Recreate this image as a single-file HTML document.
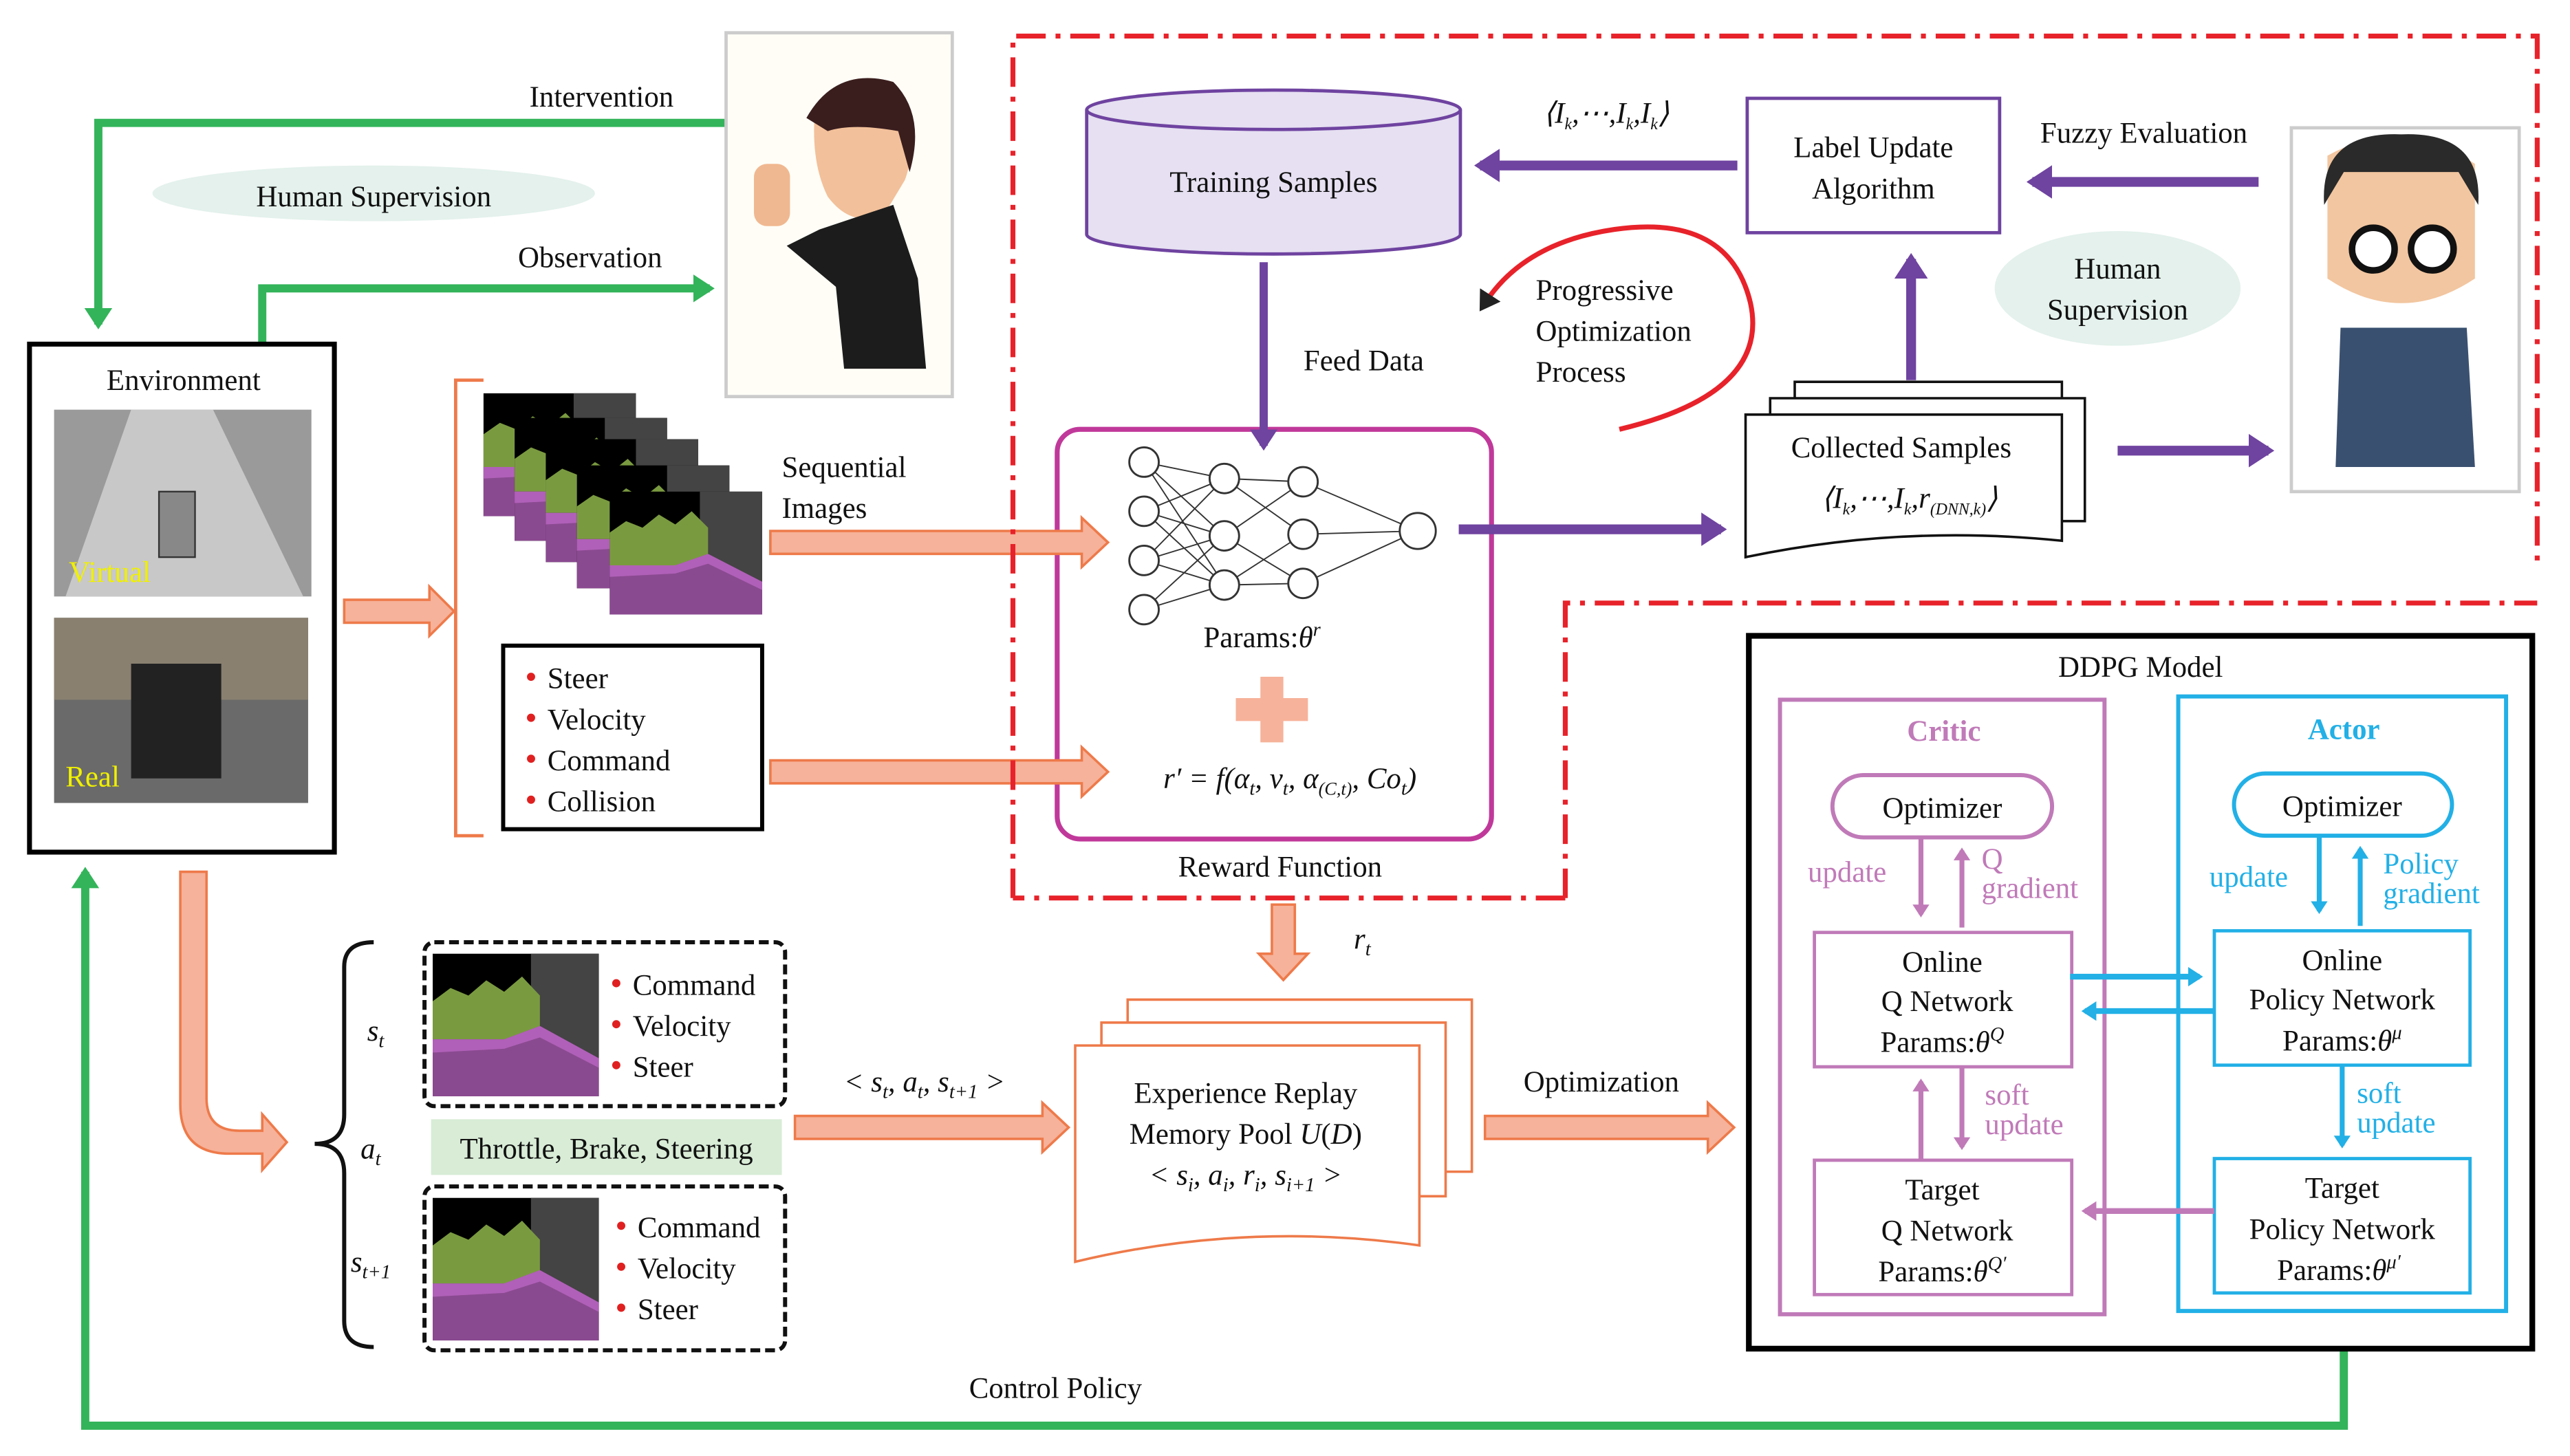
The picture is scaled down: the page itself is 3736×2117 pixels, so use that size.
<!DOCTYPE html>
<html><head><meta charset="utf-8"><style>
html,body{margin:0;padding:0;background:#fff;}
svg{display:block;}
text{font-family:"Liberation Serif",serif;fill:#111;}
.s18{font-size:18px;}
.c{text-anchor:middle;}
.i{font-style:italic;}
</style></head><body>
<svg width="3736" height="2117" viewBox="0 0 1568 888.5" preserveAspectRatio="none" xmlns="http://www.w3.org/2000/svg">
<defs>
<marker id="ag" markerWidth="4" markerHeight="4" refX="2" refY="2" orient="auto" markerUnits="strokeWidth"><path d="M0,0.3 L2.6,2 L0,3.7z" fill="#33b45a"/></marker>
<marker id="ap" markerWidth="4" markerHeight="4" refX="2" refY="2" orient="auto" markerUnits="strokeWidth"><path d="M0,0.3 L2.6,2 L0,3.7z" fill="#6f43a0"/></marker>
<marker id="am" markerWidth="4" markerHeight="4" refX="2" refY="2" orient="auto" markerUnits="strokeWidth"><path d="M0,0.3 L2.6,2 L0,3.7z" fill="#c07ab8"/></marker>
<marker id="ab" markerWidth="4" markerHeight="4" refX="2" refY="2" orient="auto" markerUnits="strokeWidth"><path d="M0,0.3 L2.6,2 L0,3.7z" fill="#22b0e6"/></marker>
<marker id="ak" markerWidth="6" markerHeight="6" refX="2" refY="3" orient="auto" markerUnits="strokeWidth"><path d="M0,0.5 L4,3 L0,5.5z" fill="#222"/></marker>
<g id="sim">
<rect x="0" y="0" width="93" height="75" fill="#000"/>
<rect x="55" y="0" width="38" height="75" fill="#444"/>
<path d="M0,25 L10,18 L20,22 L30,14 L40,20 L50,12 L60,22 L60,45 L0,45z" fill="#7a9a40"/>
<path d="M0,45 L40,45 L60,38 L93,55 L93,75 L0,75z" fill="#8a4a90"/>
<path d="M0,45 L40,45 L60,38 L93,55 L93,60 L60,44 L40,50 L0,52z" fill="#b060b8"/>
</g>
</defs>

<ellipse cx="228" cy="118" rx="135" ry="17" fill="#e4f1ec"/>
<text x="228" y="126" class="s18 c">Human Supervision</text>
<text x="367" y="65" class="s18 c">Intervention</text>
<text x="360" y="163" class="s18 c">Observation</text>
<polyline points="443,75 60,75 60,198" fill="none" stroke="#33b45a" stroke-width="5" marker-end="url(#ag)"/>
<polyline points="160,210 160,176 433,176" fill="none" stroke="#33b45a" stroke-width="5" marker-end="url(#ag)"/>
<polyline points="1430,800 1430,870 52,870 52,532" fill="none" stroke="#33b45a" stroke-width="5" marker-end="url(#ag)"/>
<text x="644" y="853" class="s18 c">Control Policy</text>

<rect x="443" y="20" width="138" height="222" fill="#fffdf6" stroke="#ccc" stroke-width="2"/>
<path d="M497,70 Q520,45 550,60 Q560,90 552,110 L540,130 Q520,140 505,120 Q495,100 497,70z" fill="#f2c09a"/>
<path d="M492,72 Q510,40 545,50 Q565,70 555,105 L548,80 Q520,75 505,80z" fill="#3a1e1e"/>
<path d="M500,140 L545,125 L560,170 L565,225 L515,225 L510,175 L480,150z" fill="#1c1c1c"/>
<rect x="460" y="100" width="22" height="38" rx="8" fill="#f0b890"/>

<rect x="18" y="210" width="186" height="310" fill="#fff" stroke="#000" stroke-width="3"/>
<text x="112" y="238" class="s18 c">Environment</text>
<rect x="33" y="250" width="157" height="114" fill="#9a9a9a"/>
<path d="M80,250 L130,250 L185,364 L40,364z" fill="#c8c8c8"/>
<rect x="97" y="300" width="22" height="40" fill="#888" stroke="#333"/>
<text x="42" y="355" class="s18" style="fill:#f0f000">Virtual</text>
<rect x="33" y="377" width="155" height="113" fill="#6a6a6a"/>
<rect x="33" y="377" width="155" height="50" fill="#8a8070"/>
<rect x="80" y="405" width="55" height="70" fill="#222"/>
<text x="40" y="480" class="s18" style="fill:#f0f000">Real</text>

<!-- Reward network box (drawn before arrows) -->
<rect x="645" y="262" width="265" height="250" rx="14" fill="#fff" stroke="#c0399a" stroke-width="3"/>

<g fill="#f6b29a" stroke="#ee7a4a" stroke-width="1.5">
<path d="M210,366 L262,366 L262,358 L277,373 L262,388 L262,380 L210,380z"/>
<path d="M470,324 L660,324 L660,316 L676,331 L660,346 L660,338 L470,338z"/>
<path d="M470,464 L660,464 L660,456 L676,471 L660,486 L660,478 L470,478z"/>
<path d="M485,681 L636,681 L636,673 L652,688 L636,703 L636,695 L485,695z"/>
<path d="M906,681 L1042,681 L1042,673 L1058,688 L1042,703 L1042,695 L906,695z"/>
<path d="M776,552 L790,552 L790,582 L798,582 L783,598 L768,582 L776,582z"/>
<path d="M110,532 L126,532 L126,670 Q126,690 146,690 L160,690 L160,680 L175,697 L160,714 L160,704 L140,704 Q110,704 110,674z"/>
</g>

<polyline points="295,232 278,232 278,510 295,510" fill="none" stroke="#ee7a4a" stroke-width="2"/>
<use href="#sim" x="295" y="240"/>
<use href="#sim" x="314" y="255"/>
<use href="#sim" x="333" y="268"/>
<use href="#sim" x="352" y="284"/>
<use href="#sim" x="372" y="300"/>
<text x="477" y="291" class="s18">Sequential</text>
<text x="477" y="316" class="s18">Images</text>
<rect x="307" y="394" width="158" height="112" fill="#fff" stroke="#000" stroke-width="2.5"/>
<g class="s18"><text x="334" y="420">Steer</text><text x="334" y="445">Velocity</text><text x="334" y="470">Command</text><text x="334" y="495">Collision</text></g>
<g fill="#e02020"><circle cx="324" cy="413" r="2.5"/><circle cx="324" cy="438" r="2.5"/><circle cx="324" cy="463" r="2.5"/><circle cx="324" cy="488" r="2.5"/></g>

<path d="M618,548 L618,22 L1548,22 L1548,345 M955,548 L618,548 M955,548 L955,368 L1548,368" fill="none" stroke="#e8222a" stroke-width="3" stroke-dasharray="18,6,3,6"/>

<path d="M663,67 L663,143 A114,12 0 0 0 891,143 L891,67" fill="#e6e0f2" stroke="#6f43a0" stroke-width="2"/>
<ellipse cx="777" cy="67" rx="114" ry="12" fill="#e6e0f2" stroke="#6f43a0" stroke-width="2"/>
<text x="777" y="117" class="s18 c">Training Samples</text>
<line x1="771" y1="160" x2="771" y2="272" stroke="#6f43a0" stroke-width="5" marker-end="url(#ap)"/>
<text x="832" y="226" class="s18 c">Feed Data</text>
<line x1="1060" y1="101" x2="903" y2="101" stroke="#6f43a0" stroke-width="6" marker-end="url(#ap)"/>
<text x="980" y="75" class="s18 c i">⟨I<tspan font-size="10" dy="4">k</tspan><tspan dy="-4">,⋯,I</tspan><tspan font-size="10" dy="4">k</tspan><tspan dy="-4">,I</tspan><tspan font-size="10" dy="4">k</tspan><tspan dy="-4">⟩</tspan></text>
<rect x="1066" y="60" width="154" height="82" fill="#fff" stroke="#6f43a0" stroke-width="2"/>
<text x="1143" y="96" class="s18 c">Label Update</text>
<text x="1143" y="121" class="s18 c">Algorithm</text>
<text x="1308" y="87" class="s18 c">Fuzzy Evaluation</text>
<line x1="1378" y1="111" x2="1240" y2="111" stroke="#6f43a0" stroke-width="6" marker-end="url(#ap)"/>
<ellipse cx="1292" cy="176" rx="75" ry="35" fill="#e4f1ec"/>
<text x="1292" y="170" class="s18 c">Human</text>
<text x="1292" y="195" class="s18 c">Supervision</text>
<line x1="1166" y1="232" x2="1166" y2="158" stroke="#6f43a0" stroke-width="6" marker-end="url(#ap)"/>
<line x1="1292" y1="275" x2="1384" y2="275" stroke="#6f43a0" stroke-width="6" marker-end="url(#ap)"/>
<rect x="1398" y="78" width="139" height="222" fill="#fff" stroke="#ccc" stroke-width="2"/>
<path d="M1420,95 Q1465,70 1510,100 L1510,170 Q1465,200 1420,170z" fill="#f2c6a0"/>
<path d="M1418,125 Q1415,80 1465,82 Q1515,80 1512,125 L1500,105 L1430,105z" fill="#2a2a2a"/>
<circle cx="1448" cy="152" r="13" fill="#fff" stroke="#111" stroke-width="4"/>
<circle cx="1484" cy="152" r="13" fill="#fff" stroke="#111" stroke-width="4"/>
<path d="M1428,200 L1505,200 L1510,285 L1425,285z" fill="#3a5070"/>

<g fill="#fff" stroke="#111" stroke-width="1.5">
<path d="M1095,233 L1258,233 L1258,305 L1095,305z"/>
<path d="M1080,243 L1272,243 L1272,318 L1080,318z"/>
<path d="M1065,253 L1258,253 L1258,330 Q1160,320 1065,340z"/>
</g>
<text x="1160" y="279" class="s18 c">Collected  Samples</text>
<text x="1165" y="310" class="s18 c i">⟨I<tspan font-size="10" dy="4">k</tspan><tspan dy="-4">,⋯,I</tspan><tspan font-size="10" dy="4">k</tspan><tspan dy="-4">,r</tspan><tspan font-size="10" dy="4">(DNN,k)</tspan><tspan dy="-4">⟩</tspan></text>
<line x1="890" y1="323" x2="1050" y2="323" stroke="#6f43a0" stroke-width="6" marker-end="url(#ap)"/>

<path d="M988,262 Q1080,240 1068,185 Q1055,130 985,140 Q930,148 906,185" fill="none" stroke="#e8222a" stroke-width="3" marker-end="url(#ak)"/>
<text x="937" y="183" class="s18">Progressive</text>
<text x="937" y="208" class="s18">Optimization</text>
<text x="937" y="233" class="s18">Process</text>

<g stroke="#333" stroke-width="0.8" fill="none">
<path d="M698,282 L747,292 M698,282 L747,327 M698,282 L747,357 M698,312 L747,292 M698,312 L747,327 M698,312 L747,357 M698,342 L747,292 M698,342 L747,327 M698,342 L747,357 M698,372 L747,327 M698,372 L747,357 M747,292 L795,294 M747,292 L795,326 M747,327 L795,294 M747,327 L795,356 M747,357 L795,326 M747,357 L795,356 M795,294 L865,324 M795,326 L865,324 M795,356 L865,324"/>
</g>
<g fill="#fff" stroke="#333" stroke-width="1.2">
<circle cx="698" cy="282" r="9"/><circle cx="698" cy="312" r="9"/><circle cx="698" cy="342" r="9"/><circle cx="698" cy="372" r="9"/>
<circle cx="747" cy="292" r="9"/><circle cx="747" cy="327" r="9"/><circle cx="747" cy="357" r="9"/>
<circle cx="795" cy="294" r="9"/><circle cx="795" cy="326" r="9"/><circle cx="795" cy="356" r="9"/>
<circle cx="865" cy="324" r="11"/>
</g>
<text x="770" y="395" class="s18 c">Params:<tspan class="i">θ<tspan font-size="12" dy="-7">r</tspan></tspan></text>
<path d="M769,413 L783,413 L783,426 L798,426 L798,440 L783,440 L783,453 L769,453 L769,440 L754,440 L754,426 L769,426z" fill="#f6b29a"/>
<text x="787" y="481" class="s18 c i">r′ = f(α<tspan font-size="12" dy="4">t</tspan><tspan dy="-4">, v</tspan><tspan font-size="12" dy="4">t</tspan><tspan dy="-4">, α</tspan><tspan font-size="11" dy="4">(C,t)</tspan><tspan dy="-4">, Co</tspan><tspan font-size="12" dy="4">t</tspan><tspan dy="-4">)</tspan></text>
<text x="781" y="535" class="s18 c">Reward Function</text>
<text x="826" y="579" class="s18 i">r<tspan font-size="12" dy="4">t</tspan></text>

<path d="M228,575 Q210,575 210,590 L210,680 Q210,698 192,698 Q210,698 210,716 L210,806 Q210,822 228,822" fill="none" stroke="#111" stroke-width="2.5"/>
<text x="224" y="635" class="s18 i">s<tspan font-size="12" dy="4">t</tspan></text>
<text x="220" y="707" class="s18 i">a<tspan font-size="12" dy="4">t</tspan></text>
<text x="214" y="776" class="s18 i">s<tspan font-size="12" dy="4">t+1</tspan></text>
<rect x="259" y="575" width="220" height="100" rx="6" fill="#fff" stroke="#111" stroke-width="2.5" stroke-dasharray="6,3"/>
<use href="#sim" x="264" y="582" transform="translate(264,582) scale(1.09,1.16) translate(-264,-582)"/>
<g class="s18"><text x="386" y="607">Command</text><text x="386" y="632">Velocity</text><text x="386" y="657">Steer</text></g>
<g fill="#e02020"><circle cx="376" cy="600" r="2.5"/><circle cx="376" cy="625" r="2.5"/><circle cx="376" cy="650" r="2.5"/></g>
<rect x="263" y="683" width="214" height="34" fill="#d8ecd6"/>
<text x="370" y="707" class="s18 c">Throttle, Brake, Steering</text>
<rect x="259" y="724" width="220" height="100" rx="6" fill="#fff" stroke="#111" stroke-width="2.5" stroke-dasharray="6,3"/>
<use href="#sim" x="264" y="731" transform="translate(264,731) scale(1.09,1.16) translate(-264,-731)"/>
<g class="s18"><text x="389" y="755">Command</text><text x="389" y="780">Velocity</text><text x="389" y="805">Steer</text></g>
<g fill="#e02020"><circle cx="379" cy="748" r="2.5"/><circle cx="379" cy="773" r="2.5"/><circle cx="379" cy="798" r="2.5"/></g>
<text x="564" y="666" class="s18 c i">&lt; s<tspan font-size="12" dy="4">t</tspan><tspan dy="-4">, a</tspan><tspan font-size="12" dy="4">t</tspan><tspan dy="-4">, s</tspan><tspan font-size="12" dy="4">t+1</tspan><tspan dy="-4"> &gt;</tspan></text>

<g fill="#fff" stroke="#ee7a4a" stroke-width="1.5">
<path d="M688,610 L898,610 L898,715 L688,715z"/>
<path d="M672,624 L882,624 L882,730 L672,730z"/>
<path d="M656,638 L866,638 L866,760 Q760,745 656,770z"/>
</g>
<text x="760" y="673" class="s18 c">Experience Replay</text>
<text x="760" y="698" class="s18 c">Memory Pool <tspan class="i">U</tspan>(<tspan class="i">D</tspan>)</text>
<text x="760" y="723" class="s18 c i">&lt; s<tspan font-size="12" dy="4">i</tspan><tspan dy="-4">, a</tspan><tspan font-size="12" dy="4">i</tspan><tspan dy="-4">, r</tspan><tspan font-size="12" dy="4">i</tspan><tspan dy="-4">, s</tspan><tspan font-size="12" dy="4">i+1</tspan><tspan dy="-4"> &gt;</tspan></text>
<text x="977" y="666" class="s18 c">Optimization</text>

<rect x="1067" y="388" width="478" height="435" fill="#fff" stroke="#000" stroke-width="3.5"/>
<text x="1306" y="413" class="s18 c">DDPG Model</text>
<rect x="1086" y="427" width="198" height="375" fill="none" stroke="#c07ab8" stroke-width="2.5"/>
<rect x="1329" y="425" width="200" height="375" fill="none" stroke="#22b0e6" stroke-width="2.5"/>
<text x="1186" y="452" class="s18 c" style="fill:#c07ab8;font-weight:bold">Critic</text>
<text x="1430" y="451" class="s18 c" style="fill:#22b0e6;font-weight:bold">Actor</text>
<rect x="1118" y="473" width="134" height="38" rx="19" fill="#fff" stroke="#c07ab8" stroke-width="2.5"/>
<text x="1185" y="499" class="s18 c">Optimizer</text>
<rect x="1363" y="472" width="133" height="38" rx="19" fill="#fff" stroke="#22b0e6" stroke-width="2.5"/>
<text x="1429" y="498" class="s18 c">Optimizer</text>
<line x1="1172" y1="512" x2="1172" y2="558" stroke="#c07ab8" stroke-width="3" marker-end="url(#am)"/>
<line x1="1197" y1="566" x2="1197" y2="519" stroke="#c07ab8" stroke-width="3" marker-end="url(#am)"/>
<text x="1103" y="538" class="s18" style="fill:#c07ab8">update</text>
<text x="1209" y="530" class="s18" style="fill:#c07ab8">Q</text>
<text x="1209" y="548" class="s18" style="fill:#c07ab8">gradient</text>
<line x1="1415" y1="511" x2="1415" y2="556" stroke="#22b0e6" stroke-width="3" marker-end="url(#ab)"/>
<line x1="1440" y1="565" x2="1440" y2="518" stroke="#22b0e6" stroke-width="3" marker-end="url(#ab)"/>
<text x="1348" y="541" class="s18" style="fill:#22b0e6">update</text>
<text x="1454" y="533" class="s18" style="fill:#22b0e6">Policy</text>
<text x="1454" y="551" class="s18" style="fill:#22b0e6">gradient</text>
<rect x="1107" y="569" width="157" height="82" fill="#fff" stroke="#c07ab8" stroke-width="2"/>
<text x="1185" y="593" class="s18 c">Online</text>
<text x="1188" y="617" class="s18 c">Q Network</text>
<text x="1185" y="642" class="s18 c">Params:<tspan class="i">θ<tspan font-size="12" dy="-7">Q</tspan></tspan></text>
<rect x="1351" y="568" width="156" height="82" fill="#fff" stroke="#22b0e6" stroke-width="2"/>
<text x="1429" y="592" class="s18 c">Online</text>
<text x="1429" y="616" class="s18 c">Policy  Network</text>
<text x="1429" y="641" class="s18 c">Params:<tspan class="i">θ<tspan font-size="12" dy="-7">μ</tspan></tspan></text>
<line x1="1263" y1="596" x2="1342" y2="596" stroke="#22b0e6" stroke-width="3.5" marker-end="url(#ab)"/>
<line x1="1351" y1="617" x2="1272" y2="617" stroke="#22b0e6" stroke-width="3.5" marker-end="url(#ab)"/>
<line x1="1172" y1="708" x2="1172" y2="660" stroke="#c07ab8" stroke-width="3" marker-end="url(#am)"/>
<line x1="1197" y1="652" x2="1197" y2="700" stroke="#c07ab8" stroke-width="3" marker-end="url(#am)"/>
<text x="1211" y="674" class="s18" style="fill:#c07ab8">soft</text>
<text x="1211" y="692" class="s18" style="fill:#c07ab8">update</text>
<line x1="1429" y1="650" x2="1429" y2="699" stroke="#22b0e6" stroke-width="3" marker-end="url(#ab)"/>
<text x="1438" y="673" class="s18" style="fill:#22b0e6">soft</text>
<text x="1438" y="691" class="s18" style="fill:#22b0e6">update</text>
<rect x="1107" y="708" width="157" height="82" fill="#fff" stroke="#c07ab8" stroke-width="2"/>
<text x="1185" y="732" class="s18 c">Target</text>
<text x="1188" y="757" class="s18 c">Q Network</text>
<text x="1185" y="782" class="s18 c">Params:<tspan class="i">θ<tspan font-size="12" dy="-7">Q′</tspan></tspan></text>
<rect x="1351" y="707" width="156" height="82" fill="#fff" stroke="#22b0e6" stroke-width="2"/>
<text x="1429" y="731" class="s18 c">Target</text>
<text x="1429" y="756" class="s18 c">Policy  Network</text>
<text x="1427" y="781" class="s18 c">Params:<tspan class="i">θ<tspan font-size="12" dy="-7">μ′</tspan></tspan></text>
<line x1="1351" y1="739" x2="1272" y2="739" stroke="#c07ab8" stroke-width="3.5" marker-end="url(#am)"/>
</svg>
</body></html>
